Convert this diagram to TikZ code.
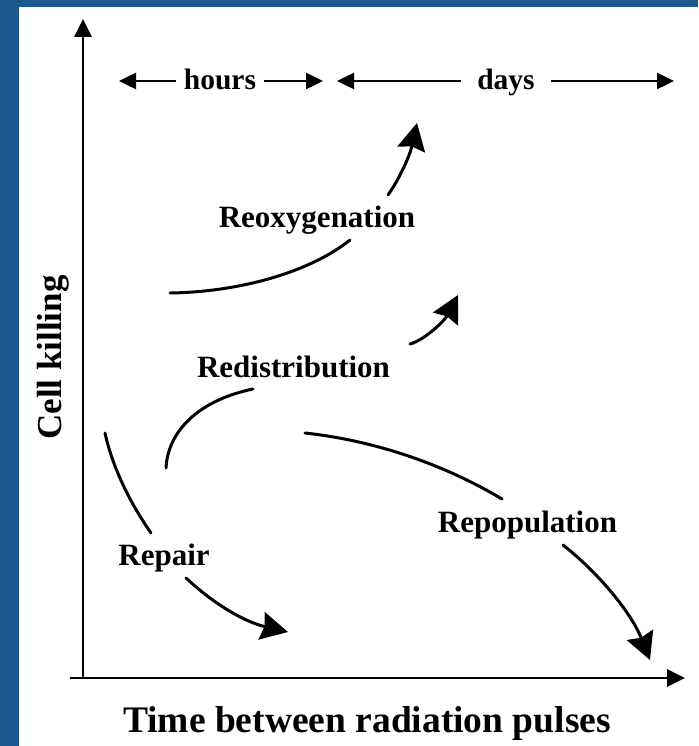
\documentclass[tikz,border=0pt]{standalone}
\usepackage{fontspec}
\setmainfont{Liberation Serif}
\usetikzlibrary{arrows.meta}
\definecolor{panelblue}{RGB}{29,88,143}

\begin{document}
\begin{tikzpicture}[x=1pt,y=-1pt]

      \tikzset{curve/.style={line width=3pt, line cap=round},
               bigtip/.style={curve, -{Stealth[length=27pt, width=28pt, inset=3pt]}},
               axis/.style={line width=2.8pt, -{Triangle[length=18pt, width=17pt]}},
               span/.style={line width=2.5pt, -{Triangle[length=17pt, width=16pt]}},
               lbl/.style={anchor=base, inner sep=0pt, font=\bfseries\fontsize{31}{31}\selectfont}}
%% Panel
      \useasboundingbox (0,0) rectangle (698,746);
      \fill[panelblue] (0,0) rectangle (698,746);
      \fill[white] (19,7) rectangle (698,746);
%% Axes
      \coordinate (O) at (83,679);
      \coordinate (ytop) at (83,19);
      \coordinate (xstart) at (70,678);
      \coordinate (xend) at (685,678);
        \draw[axis] (O) -- (ytop);
        \draw[axis] (xstart) -- (xend);
        \node[lbl, font=\bfseries\fontsize{37.5}{37.5}\selectfont] (xlabel) at (367,732) {Time between radiation pulses};
        \node[lbl, rotate=90, font=\bfseries\fontsize{35}{35}\selectfont] (ylabel) at (61,357.5) {Cell killing};
%% Time spans
      \node[lbl, font=\bfseries\fontsize{29.5}{29.5}\selectfont, inner xsep=8pt] (hours) at (220,90) {hours};
      \node[lbl, font=\bfseries\fontsize{29.5}{29.5}\selectfont, inner xsep=16pt] (days) at (506,90) {days};
      \coordinate (hl) at (119,81);
      \coordinate (hr) at (323,81);
      \coordinate (dl) at (337,81);
      \coordinate (dr) at (674,81);
        \draw[span] (hl -| hours.west) -- (hl);
        \draw[span] (hr -| hours.east) -- (hr);
        \draw[span] (dl -| days.west) -- (dl);
        \draw[span] (dr -| days.east) -- (dr);
%% Processes
      \node[lbl] (reox) at (317,227) {Reoxygenation};
      \node[lbl] (redist) at (293.5,377) {Redistribution};
      \node[lbl] (repair) at (164,565) {Repair};
      \node[lbl] (repop) at (527.5,532) {Repopulation};
%Curves
      \coordinate (reox1) at (170,293);
      \coordinate (reox2) at (350,240);
      \coordinate (reox3) at (388,195);
      \coordinate (reox4) at (417,123);
      \coordinate (redist1) at (166,468);
      \coordinate (redist2) at (253,389);
      \coordinate (redist3) at (410,344);
      \coordinate (redist4) at (458,295);
      \coordinate (repair1) at (105,433);
      \coordinate (repair2) at (151,533);
      \coordinate (repair3) at (186,578);
      \coordinate (repair4) at (288,632);
      \coordinate (repop1) at (305,433);
      \coordinate (repop2) at (502,499);
      \coordinate (repop3) at (563,545);
      \coordinate (repop4) at (650,660);
        \draw[curve] (reox1) .. controls (240,292) and (310,272) .. (reox2);
        \draw[bigtip] (reox3) .. controls (400,178) and (410,155) .. (reox4);
        \draw[curve] (redist1) .. controls (168,430) and (200,400) .. (redist2);
        \draw[bigtip] (redist3) .. controls (425,340) and (445,320) .. (redist4);
        \draw[curve] (repair1) .. controls (112,465) and (128,500) .. (repair2);
        \draw[bigtip] (repair3) .. controls (215,605) and (245,622) .. (repair4);
        \draw[curve] (repop1) .. controls (370,440) and (440,462) .. (repop2);
        \draw[bigtip] (repop3) .. controls (595,570) and (630,610) .. (repop4);

\end{tikzpicture}
\end{document}
